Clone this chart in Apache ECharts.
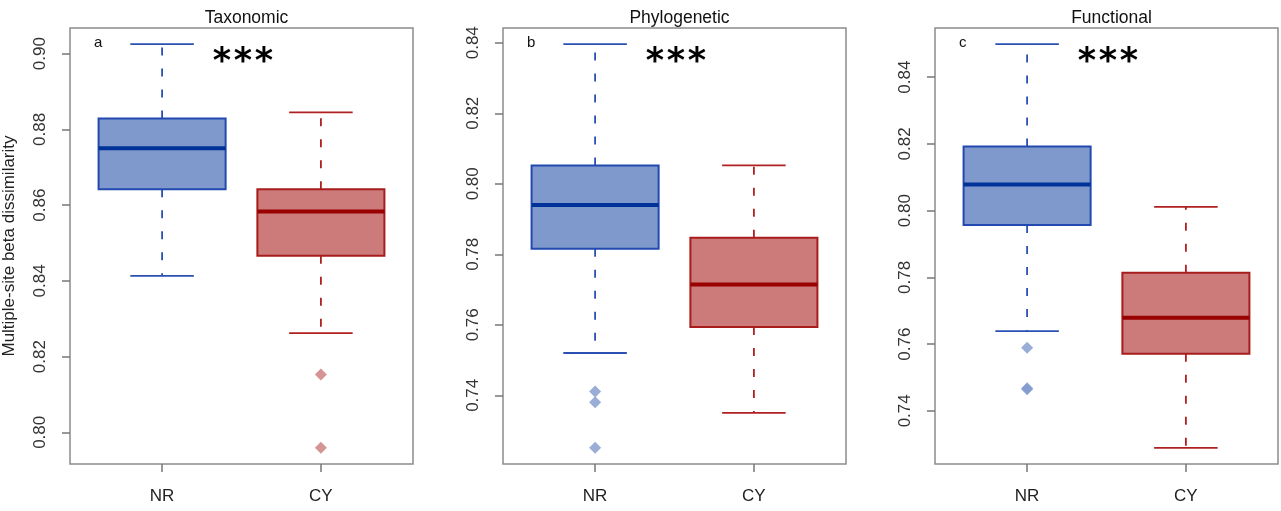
<!DOCTYPE html>
<html>
<head>
<meta charset="utf-8">
<script src="https://cdn.jsdelivr.net/npm/echarts@6/dist/echarts.min.js"></script>
<style>
  html, body { margin: 0; padding: 0; background: #fff; }
  #chart { width: 1281px; height: 511px; }
</style>
</head>
<body>
<div id="chart"></div>
<script>
// groups and panels
const groups = ['NR', 'CY']
const panelTitles = ['Taxonomic', 'Phylogenetic', 'Functional']
const panelLetters = ['a', 'b', 'c']

// box stats per group: [lower whisker, Q1, median, Q3, upper whisker]
const taxoBoxes = [
  [0.8413, 0.8642, 0.8750, 0.8829, 0.9025],
  [0.8262, 0.8466, 0.8583, 0.8642, 0.8845]
]
const taxoOutliers = [[], [0.8153, 0.7959]]
const taxoTicks = [0.80, 0.82, 0.84, 0.86, 0.88, 0.90]

const phyloBoxes = [
  [0.7520, 0.7816, 0.7940, 0.8052, 0.8396],
  [0.7350, 0.7594, 0.7714, 0.7847, 0.8052]
]
const phyloOutliers = [[0.7411, 0.7380, 0.7251], []]
const phyloTicks = [0.74, 0.76, 0.78, 0.80, 0.82, 0.84]

const funcBoxes = [
  [0.7639, 0.7957, 0.8078, 0.8192, 0.8499],
  [0.7289, 0.7571, 0.7679, 0.7814, 0.8011]
]
const funcOutliers = [[0.7589, 0.7468, 0.7465], []]
const funcTicks = [0.74, 0.76, 0.78, 0.80, 0.82, 0.84]

const panels = [
  { boxes: taxoBoxes, outliers: taxoOutliers, ticks: taxoTicks },
  { boxes: phyloBoxes, outliers: phyloOutliers, ticks: phyloTicks },
  { boxes: funcBoxes, outliers: funcOutliers, ticks: funcTicks }
]

// colours per group
const fills = ['#7f99cc', '#cc7a7a']
const borders = ['#2149b0', '#a81c1c']
const medians = ['#003399', '#990000']
const whiskers = ['#2a50b4', '#b02020']

const gridLefts = [70, 503, 935]
const gridWidth = 343

// R style axis limits: data range padded by 4%
function limits(p) {
  const vals = p.boxes.flat().concat(p.outliers.flat())
  const lo = Math.min(...vals), hi = Math.max(...vals)
  const pad = (hi - lo) * 0.04
  return [lo - pad, hi + pad]
}

function renderBox(params, api) {
  const i = params.dataIndex
  const x = api.value(0)
  const pMin = api.coord([x, api.value(1)])
  const pQ1 = api.coord([x, api.value(2)])
  const pMed = api.coord([x, api.value(3)])
  const pQ3 = api.coord([x, api.value(4)])
  const pMax = api.coord([x, api.value(5)])
  const half = (api.coord([x + 0.4, api.value(3)])[0] - api.coord([x - 0.4, api.value(3)])[0]) / 2
  const cx = pMed[0]
  const wStyle = { stroke: whiskers[i], lineWidth: 1.8, lineDash: [8, 13] }
  const cStyle = { stroke: whiskers[i], lineWidth: 1.8 }
  return {
    type: 'group',
    children: [
      { type: 'line', shape: { x1: cx, y1: pQ3[1], x2: cx, y2: pMax[1] }, style: wStyle },
      { type: 'line', shape: { x1: cx, y1: pQ1[1], x2: cx, y2: pMin[1] }, style: wStyle },
      { type: 'line', shape: { x1: cx - half / 2, y1: pMax[1], x2: cx + half / 2, y2: pMax[1] }, style: cStyle },
      { type: 'line', shape: { x1: cx - half / 2, y1: pMin[1], x2: cx + half / 2, y2: pMin[1] }, style: cStyle },
      {
        type: 'rect',
        shape: { x: cx - half, y: pQ3[1], width: half * 2, height: pQ1[1] - pQ3[1] },
        style: { fill: fills[i], stroke: borders[i], lineWidth: 2 }
      },
      { type: 'line', shape: { x1: cx - half, y1: pMed[1], x2: cx + half, y2: pMed[1] }, style: { stroke: medians[i], lineWidth: 4 } }
    ]
  }
}

const grid = [], xAxis = [], yAxis = [], series = [], title = [], graphic = []

panels.forEach((p, k) => {
  const lim = limits(p)
  grid.push({
    left: gridLefts[k], top: 28, width: gridWidth, height: 436,
    show: true, borderColor: '#8c8c8c', borderWidth: 1.5, backgroundColor: 'transparent'
  })
  xAxis.push({
    gridIndex: k, type: 'value', min: 0.42, max: 2.58,
    axisLine: { show: false },
    splitLine: { show: false },
    axisTick: { show: true, customValues: [1, 2], length: 8, lineStyle: { color: '#777', width: 1.5 } },
    axisLabel: {
      customValues: [1, 2], margin: 24, fontSize: 17, color: '#222', fontFamily: 'Liberation Sans',
      formatter: v => groups[Math.round(v) - 1]
    }
  })
  yAxis.push({
    gridIndex: k, type: 'value', min: lim[0], max: lim[1],
    axisLine: { show: false },
    splitLine: { show: false },
    axisTick: { show: true, customValues: p.ticks, length: 8, lineStyle: { color: '#777', width: 1.5 } },
    axisLabel: {
      customValues: p.ticks, rotate: 90, margin: 21, fontSize: 17, color: '#333', fontFamily: 'Liberation Sans',
      formatter: v => v.toFixed(2)
    },
    name: k === 0 ? 'Multiple-site beta dissimilarity' : '',
    nameLocation: 'middle', nameGap: 52, nameRotate: 90,
    nameTextStyle: { fontSize: 17, color: '#222', fontFamily: 'Liberation Sans' }
  })
  series.push({
    type: 'custom', xAxisIndex: k, yAxisIndex: k, clip: false,
    renderItem: renderBox,
    data: p.boxes.map((b, i) => [i + 1, ...b])
  })
  p.outliers.forEach((arr, i) => {
    if (!arr.length) return
    series.push({
      type: 'scatter', xAxisIndex: k, yAxisIndex: k,
      symbol: 'diamond', symbolSize: 12,
      itemStyle: { color: fills[i] },
      data: arr.map(v => [i + 1, v])
    })
  })
  title.push({
    text: panelTitles[k], left: gridLefts[k] + gridWidth / 2, top: 4, textAlign: 'center',
    textStyle: { fontSize: 17.5, fontWeight: 'normal', color: '#111', fontFamily: 'Liberation Sans' }
  })
  graphic.push({
    type: 'text', x: gridLefts[k] + 24, y: 35,
    style: { text: panelLetters[k], fontSize: 15, fill: '#111', fontFamily: 'Liberation Sans' }
  })
  // significance stars, spaced like the R text
  ;[-21, 0, 21].forEach(dx => {
    graphic.push({
      type: 'text', x: gridLefts[k] + 173 + dx, y: 45,
      style: { text: '*', fontSize: 35, fontWeight: 'bold', fill: '#000', fontFamily: 'DejaVu Sans', align: 'center' }
    })
  })
})

const chart = echarts.init(document.getElementById('chart'))
chart.setOption({
  animation: false,
  backgroundColor: '#fff',
  title, grid, xAxis, yAxis, series, graphic
})
</script>
</body>
</html>
